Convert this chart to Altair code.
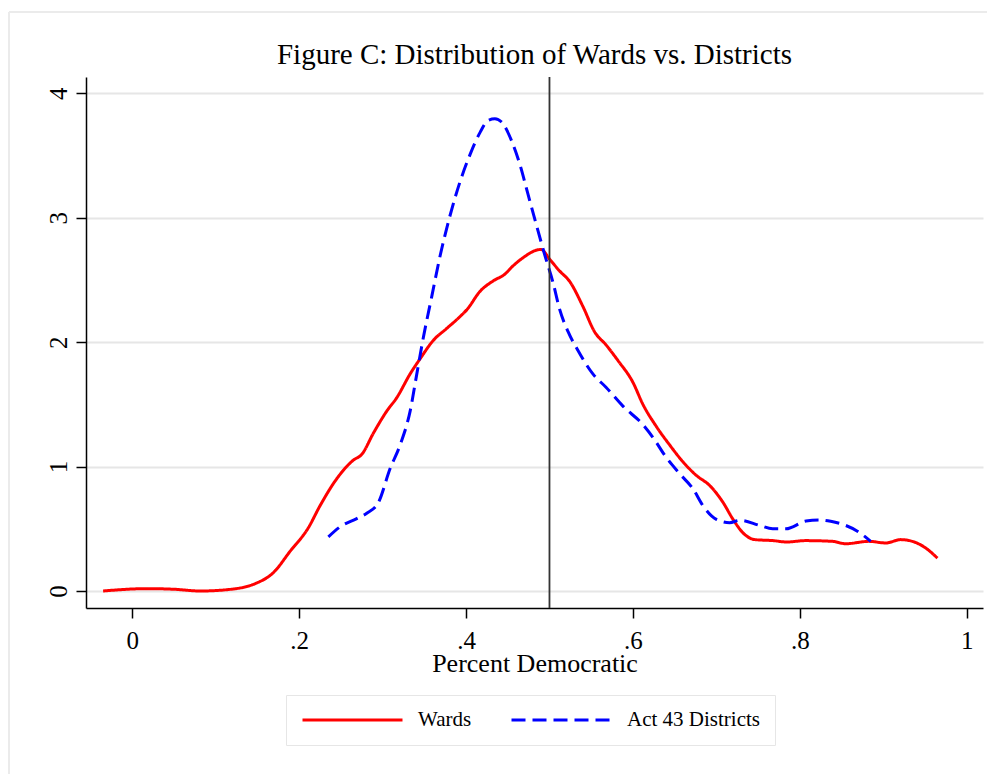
import altair as alt
import pandas as pd

# ---- data ----
wards_x = [-0.035, 0.018, 0.050, 0.082, 0.114, 0.1475, 0.169, 0.189, 0.211, 0.225,
           0.245, 0.265, 0.275, 0.289, 0.305, 0.317, 0.333, 0.345, 0.361, 0.377,
           0.393, 0.401, 0.417, 0.4325, 0.4465, 0.4565, 0.468, 0.486, 0.490, 0.500,
           0.512, 0.524, 0.540, 0.554, 0.568, 0.582, 0.600, 0.612, 0.628, 0.644,
           0.660, 0.676, 0.692, 0.708, 0.720, 0.732, 0.746, 0.768, 0.784, 0.807,
           0.839, 0.855, 0.883, 0.903, 0.921, 0.935, 0.951, 0.965]
wards_y = [0.0, 0.019, 0.014, 0.0, 0.011, 0.06, 0.147, 0.318, 0.508, 0.685,
           0.902, 1.052, 1.098, 1.269, 1.446, 1.554, 1.745, 1.867, 2.016, 2.111,
           2.207, 2.261, 2.41, 2.492, 2.546, 2.614, 2.677, 2.742, 2.745, 2.668,
           2.573, 2.49, 2.288, 2.084, 1.976, 1.853, 1.677, 1.5, 1.323, 1.174,
           1.038, 0.929, 0.848, 0.712, 0.576, 0.467, 0.413, 0.405, 0.394, 0.405,
           0.399, 0.380, 0.399, 0.386, 0.413, 0.399, 0.345, 0.264]

dist_x = [0.235, 0.249, 0.269, 0.281, 0.295, 0.309, 0.321, 0.333, 0.341, 0.349,
          0.359, 0.369, 0.381, 0.393, 0.405, 0.417, 0.4266, 0.4346, 0.4426, 0.4545,
          0.4645, 0.4744, 0.4844, 0.4944, 0.5043, 0.5123, 0.5223, 0.534, 0.552, 0.568,
          0.588, 0.612, 0.626, 0.638, 0.656, 0.672, 0.684, 0.700, 0.716, 0.728,
          0.752, 0.7675, 0.7835, 0.8074, 0.8233, 0.837, 0.855, 0.869, 0.885]
dist_y = [0.435, 0.516, 0.582, 0.625, 0.712, 0.984, 1.174, 1.446, 1.745, 2.043,
          2.37, 2.696, 3.022, 3.293, 3.511, 3.688, 3.783, 3.796, 3.769, 3.62,
          3.429, 3.185, 2.94, 2.70, 2.478, 2.261, 2.084, 1.935, 1.745, 1.636,
          1.486, 1.337, 1.215, 1.092, 0.943, 0.821, 0.685, 0.576, 0.549, 0.568,
          0.527, 0.5, 0.5, 0.5625, 0.571, 0.56, 0.527, 0.481, 0.399]

series_names = ["Wards", "Act 43 Districts"]
series_colors = ["#ff0000", "#0000ff"]
series_dashes = [[1, 0], [14, 7]]
x_ticks = [0, 0.2, 0.4, 0.6, 0.8, 1.0]
y_ticks = [0, 1, 2, 3, 4]
ref_x = [0.5]
title_text = "Figure C: Distribution of Wards vs. Districts"
x_title = "Percent Democratic"

df = pd.concat([
    pd.DataFrame({"x": wards_x, "y": wards_y, "series": series_names[0],
                  "order": range(len(wards_x))}),
    pd.DataFrame({"x": dist_x, "y": dist_y, "series": series_names[1],
                  "order": range(len(dist_x))}),
], ignore_index=True)

FONT = "Liberation Serif"
W, H = 897, 531
PAD = {"left": 78, "top": 69, "right": 4, "bottom": 166}

x_scale = alt.Scale(domain=[-0.0555, 1.0196], nice=False, zero=False)
y_scale = alt.Scale(domain=[-0.1366, 4.131], nice=False, zero=False)

x_axis = alt.Axis(values=x_ticks,
                  labelExpr="datum.value == 0 ? '0' : datum.value >= 1 ? '1' : '.' + round(datum.value * 10)",
                  title=x_title, grid=False, tickSize=10, tickWidth=1.5,
                  tickColor="black", domainColor="black", domainWidth=1.5,
                  labelFont=FONT, labelFontSize=25, labelColor="black", labelPadding=10,
                  titleFont=FONT, titleFontSize=26, titleFontWeight="normal",
                  titleColor="black", titleY=63, titleBaseline="alphabetic")
y_axis = alt.Axis(values=y_ticks, format="d", title=None, grid=True,
                  gridColor="#e6e6e6", gridWidth=2, tickSize=10, tickWidth=1.5,
                  tickColor="black", domainColor="black", domainWidth=1.5,
                  labelFont=FONT, labelFontSize=25, labelColor="black",
                  labelAngle=270, labelAlign="center", labelBaseline="bottom",
                  labelPadding=5)

legend = alt.Legend(title=None, orient="none", legendX=200, legendY=618,
                    direction="horizontal", strokeColor="#e6e6e6",
                    fillColor="white", padding=15, labelFont=FONT,
                    labelFontSize=21, labelColor="black", symbolType="stroke",
                    symbolSize=10000, symbolStrokeWidth=3, labelOffset=14,
                    columnPadding=38, clipHeight=20)

one = pd.DataFrame({"k": [0]})
frame_top = alt.Chart(one).mark_rule(color="#ebebeb", strokeWidth=2).encode(
    x=alt.value(-77), x2=alt.value(901), y=alt.value(-65))
frame_left = alt.Chart(one).mark_rule(color="#ebebeb", strokeWidth=2).encode(
    x=alt.value(-77), y=alt.value(-65), y2=alt.value(697))

lines = alt.Chart(df).mark_line(strokeWidth=3, interpolate="monotone").encode(
    x=alt.X("x:Q", scale=x_scale, axis=x_axis),
    y=alt.Y("y:Q", scale=y_scale, axis=y_axis),
    color=alt.Color("series:N", scale=alt.Scale(domain=series_names, range=series_colors),
                    legend=legend),
    strokeDash=alt.StrokeDash("series:N", scale=alt.Scale(domain=series_names, range=series_dashes),
                              legend=legend),
    order="order:Q",
)

vline = alt.Chart(pd.DataFrame({"x": ref_x})).mark_rule(color="#333333", strokeWidth=1.8).encode(
    x=alt.X("x:Q", scale=x_scale))

chart = alt.layer(frame_top, frame_left, lines, vline).properties(
    width=W, height=H,
    autosize=alt.AutoSizeParams(type="none"),
    padding=PAD,
    title=alt.Title(title_text, font=FONT, fontSize=29, fontWeight="normal",
                    color="black", anchor="middle", frame="group",
                    baseline="alphabetic", offset=-82),
    background="white",
).configure_view(strokeWidth=0)

chart.save("out.html", embed_options={"renderer": "svg", "actions": False})
